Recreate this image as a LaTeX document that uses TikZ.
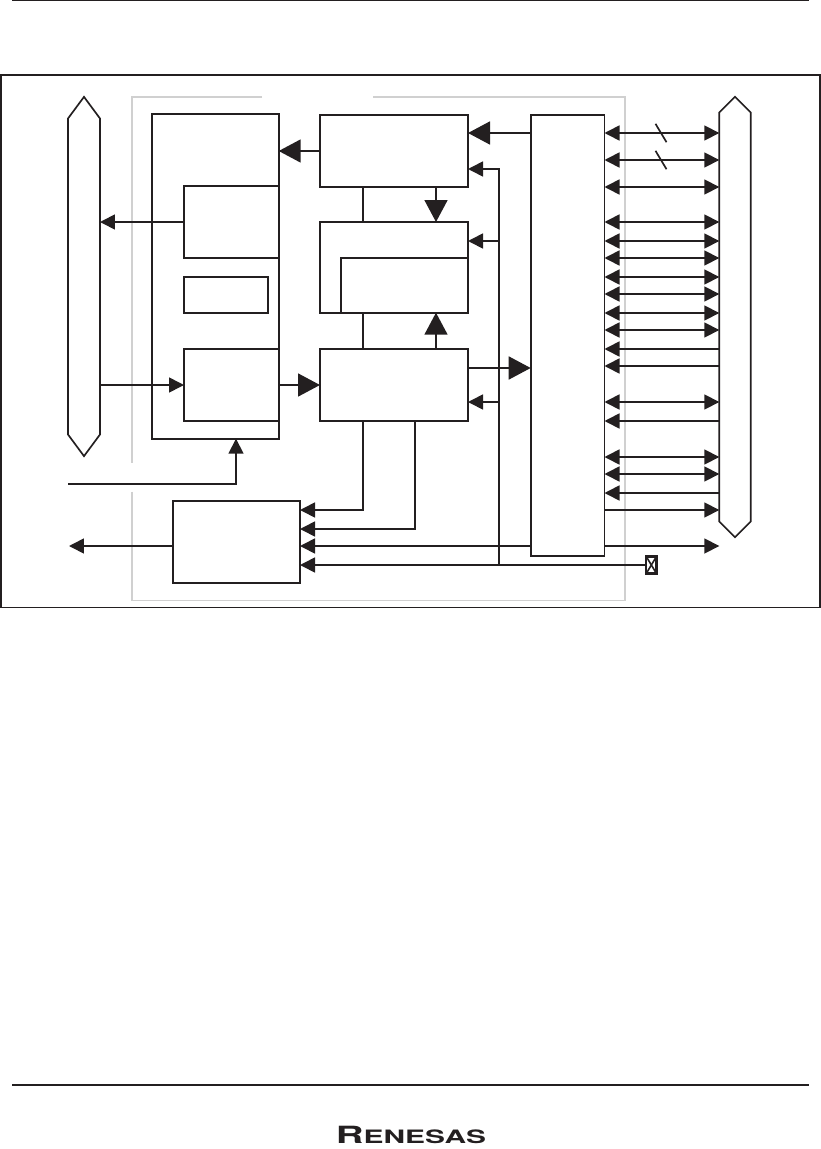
\documentclass[tikz,border=0pt]{standalone}
\usepackage{graphicx}
\usepackage{fontspec}
\setmainfont{TeX Gyre Heros}
\usetikzlibrary{arrows.meta, shapes.symbols}
\definecolor{inkc}{RGB}{35,31,32}
\definecolor{ghostc}{RGB}{208,208,208}

\begin{document}
\begin{tikzpicture}[x=0.02cm, y=-0.02cm, line width=0.95pt, color=inkc,
  blk/.style 2 args={draw=inkc, fill=white, rectangle, inner sep=0pt, outer sep=0pt, minimum width=#1*0.02cm, minimum height=#2*0.02cm},
  bus/.style n args={3}{draw=inkc, fill=white, signal, signal from=nowhere, signal to=north and south, signal pointer angle=#3, inner sep=0pt, outer sep=0pt, minimum width=#1*0.02cm, minimum height=#2*0.02cm},
  sa/.style={-{Triangle[length=0.3cm, width=0.3cm]}},
  sb/.style={{Triangle[length=0.3cm, width=0.3cm]}-{Triangle[length=0.3cm, width=0.3cm]}},
  ba/.style={-{Triangle[length=0.44cm, width=0.46cm]}},
  ghost/.style={draw=ghostc, line width=0.9pt}]
\useasboundingbox (0,0) rectangle (821,1149);
% rules and frame
\draw[line width=0.9pt] (12,0.6) -- (809,0.6);
\draw[line width=0.9pt] (12,1085) -- (809,1085);
\draw[line width=0.9pt] (1,75) rectangle (820,607.5);
% grey outline
\draw[ghost] (262,97) -- (132,97) -- (132,463);
\draw[ghost] (132,491.5) -- (132,600.7) -- (625,600.7) -- (625,97) -- (373,97);
% blocks
\node[bus={32}{316}{73}] (busL) at (84,276.5) {};
\node[bus={31.4}{409}{90}] (busR) at (735,317) {};
\node[blk={126.7}{324.7}] (boxA) at (215.35,276.35) {};
\node[blk={94.7}{72.4}] (boxA1) at (231.35,222) {};
\node[blk={84}{36.3}] (boxA2) at (226,294.85) {};
\node[blk={94.7}{72.3}] (boxA3) at (231.35,385) {};
\node[blk={148}{72}] (boxD) at (394,151) {};
\node[blk={148}{90.7}] (boxE) at (394,267.35) {};
\node[blk={127.3}{54.7}] (boxE1) at (404.35,285.35) {};
\node[blk={148}{71.7}] (boxF) at (394,385) {};
\node[blk={73.8}{441}] (boxG) at (567.6,335.2) {};
\node[blk={127}{82.3}] (boxH) at (236.5,541.85) {};
\node[blk={10.5}{17.5}, line width=1.5pt] (xbox) at (651.35,565) {};
\draw[line width=0.9pt] (xbox.north west) -- (xbox.south east);
\draw[line width=0.9pt] (xbox.north east) -- (xbox.south west);
% left side
\draw[sa] (boxA1.west) -- (busL.east |- boxA1.west);
\draw[sa] (busL.east |- boxA3.west) -- (boxA3.west);
\draw[ba] (boxA3.east) -- (boxF.west |- boxA3.east);
\draw[ba] (boxD.west) -- (boxA.east |- boxD.west);
\coordinate (inL) at (68,484);
\draw[sa] (inL) -- (236,484) -- (236,438.7);
\coordinate (outL) at (69,546);
\draw[sa] (boxH.west |- outL) -- (outL);
% centre
\draw (362.7,186.7) -- (362.7,222);
\draw (362.7,312.7) -- (362.7,349);
\draw[ba] (436,186.7) -- (436,222);
\draw[ba] (436,349) -- (436,312.7);
\coordinate (jt) at (499,169);
\draw[sa] (jt |- xbox.west) -- (jt) -- (boxD.east |- jt);
\draw[sa] (jt |- 0,241) -- (boxE.east |- 0,241);
\draw[sa] (jt |- 0,402) -- (boxF.east |- 0,402);
\draw[ba] (boxG.west |- 0,133) -- (boxD.east |- 0,133);
\draw[ba] (boxF.east |- 0,368) -- (boxG.west |- 0,368);
% into the bottom block
\draw[sa] (362.7,420.7) -- (362.7,510) -- (boxH.east |- 0,510);
\draw[sa] (415,420.7) -- (415,529) -- (boxH.east |- 0,529);
\draw[sa] (boxG.west |- 0,546) -- (boxH.east |- 0,546);
\draw[sa] (xbox.west) -- (boxH.east |- xbox.west);
% port lines
\foreach \yy in {133,160,187,222,241,258,277,294,313,330,402,457,474}
  \draw[sb] (boxG.east |- 0,\yy) -- (busR.west |- 0,\yy);
\foreach \yy in {349,366,421,493}
  \draw[sa] (busR.west |- 0,\yy) -- (boxG.east |- 0,\yy);
\foreach \yy in {510,546}
  \draw[sa] (boxG.east |- 0,\yy) -- (busR.west |- 0,\yy);
\foreach \yy in {133,160}
  \draw (661,\yy) ++(-5.5,-9.2) -- ++(11,18.4);
% maker's mark
\node[inner sep=0pt, text=inkc] (logo) at (411,1135) {\scalebox{1.62}[1]{\bfseries\fontsize{13.5}{12}\selectfont R\fontsize{10.5}{12}\selectfont ENESAS}};
\end{tikzpicture}
\end{document}
